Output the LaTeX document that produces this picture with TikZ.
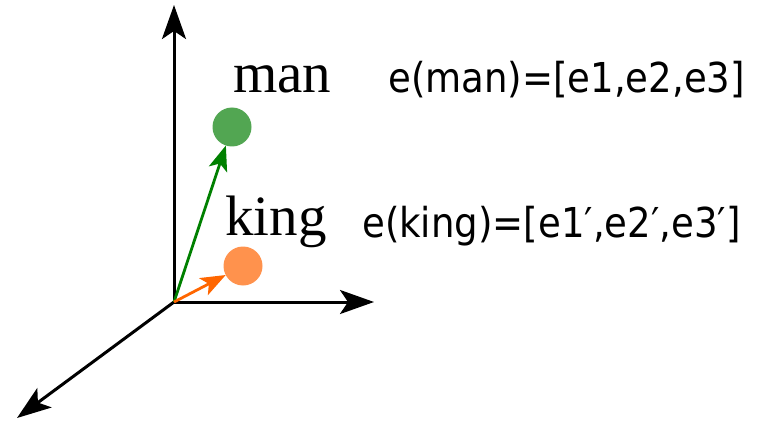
\documentclass[tikz,border=0pt]{standalone}
\usepackage{fontspec}
\setmainfont{Liberation Serif}
\newfontfamily\tahfont{DejaVu Sans Condensed}
\usetikzlibrary{arrows.meta}
\definecolor{dotgreen}{RGB}{82,166,82}
\definecolor{arrgreen}{RGB}{0,128,0}
\definecolor{dotorange}{RGB}{255,146,77}
\definecolor{arrorange}{RGB}{255,102,0}
\begin{document}
\begin{tikzpicture}[x=1pt,y=-1pt,
  axis/.style={line width=3pt,-{Stealth[length=34pt,width=24pt,inset=8pt]}},
  vec/.style={line width=2.8pt,-{Stealth[length=25pt,width=19pt,inset=6pt]}},
  dot/.style={circle,minimum size=39pt,inner sep=0pt,outer sep=0pt},
  word/.style={font=\fontsize{57}{60}\selectfont,anchor=base west,inner sep=0pt},
  formula/.style={font=\tahfont\fontsize{41.2}{48}\selectfont,anchor=base west,inner sep=0pt}]
\useasboundingbox (0,0) rectangle (759,422);
\coordinate (o) at (174,302);
\coordinate (ytip) at (174,5);
\coordinate (xtip) at (374,302);
\coordinate (ztip) at (17,418);
\draw[axis] (o) -- (ytip);
\draw[axis] (o) -- (xtip);
\draw[axis] (o) -- (ztip);
\node[dot,fill=dotgreen] (man) at (232,127) {};
\node[dot,fill=dotorange] (king) at (243,266) {};
\draw[vec,arrgreen] (o) -- (man);
\draw[vec,arrorange] (o) -- (king);
\node[word] (manlbl) at (233,93) {man};
\node[word] (kinglbl) at (225,235) {king};
\node[formula] (eman) at (388,93) {e(man)=[e1,e2,e3]};
\node[formula] (eking) at (362,237) {e(king)=[e1′,e2′,e3′]};
\end{tikzpicture}
\end{document}
